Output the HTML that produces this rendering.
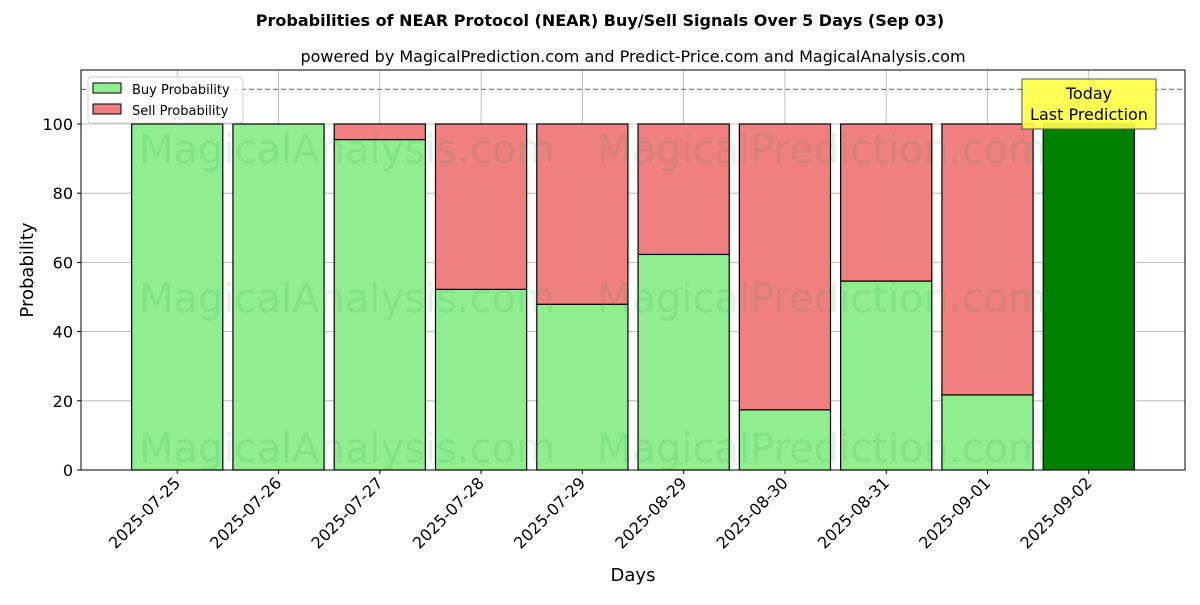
<!DOCTYPE html>
<html><head><meta charset="utf-8"><style>
body{margin:0;background:#fff;}
svg text{font-family:"DejaVu Sans","Liberation Sans",sans-serif;}
</style></head><body>
<svg id="c" width="1200" height="600" xmlns="http://www.w3.org/2000/svg">
<text x="600" y="26" text-anchor="middle" font-size="16" font-weight="bold">Probabilities of NEAR Protocol (NEAR) Buy/Sell Signals Over 5 Days (Sep 03)</text>
<text x="633" y="62" text-anchor="middle" font-size="16">powered by MagicalPrediction.com and Predict-Price.com and MagicalAnalysis.com</text>
<g id="grid"></g>
<g id="bars"></g>
<g id="wm" font-size="40" fill="#2a9d4a" fill-opacity="0.13">
<text x="347" y="163" text-anchor="middle">MagicalAnalysis.com</text>
<text x="822" y="163" text-anchor="middle">MagicalPrediction.com</text>
<text x="347" y="312" text-anchor="middle">MagicalAnalysis.com</text>
<text x="822" y="312" text-anchor="middle">MagicalPrediction.com</text>
<text x="347" y="462" text-anchor="middle">MagicalAnalysis.com</text>
<text x="822" y="462" text-anchor="middle">MagicalPrediction.com</text>
</g>
<line x1="81" x2="1185" y1="89.4" y2="89.4" stroke="#808080" stroke-width="1.2" stroke-dasharray="5,3"/>
<rect x="81" y="70" width="1104" height="400" fill="none" stroke="#000" stroke-width="1"/>
<g id="axes"></g>
<text x="33" y="270" text-anchor="middle" font-size="18" transform="rotate(-90 33 270)">Probability</text>
<text x="633" y="581" text-anchor="middle" font-size="18">Days</text>
<g>
<rect x="88" y="77" width="155" height="46" fill="#fff" fill-opacity="0.8" stroke="#ccc" rx="3"/>
<rect x="93" y="83" width="28" height="10" fill="#90ee90" stroke="#000"/>
<text x="132" y="94" font-size="13">Buy Probability</text>
<rect x="93" y="104" width="28" height="10" fill="#f08080" stroke="#000"/>
<text x="132" y="115" font-size="13">Sell Probability</text>
</g>
<g>
<rect x="1022" y="79" width="134" height="50" fill="#ffff44" fill-opacity="0.9" stroke="#555"/>
<text x="1089" y="99" text-anchor="middle" font-size="16">Today</text>
<text x="1089" y="120" text-anchor="middle" font-size="16">Last Prediction</text>
</g>
</svg>
<script>
const categories=["2025-07-25","2025-07-26","2025-07-27","2025-07-28","2025-07-29","2025-08-29","2025-08-30","2025-08-31","2025-09-01","2025-09-02"];
const buyValues=[100,100,95.5,52.2,47.9,62.3,17.4,54.6,21.7,100];
const sellValues=[0,0,4.5,47.8,52.1,37.7,82.6,45.4,78.3,0];
const yTicks=[0,20,40,60,80,100];
const NS="http://www.w3.org/2000/svg";
const L=81,R=1185,T=70,B=470,xmin=-0.95,xmax=9.95,ymax=115.6;
const X=v=>L+(v-xmin)/(xmax-xmin)*(R-L);
const Y=v=>B-v/ymax*(B-T);
function mk(tag,at,parent){const e=document.createElementNS(NS,tag);for(const k in at)e.setAttribute(k,at[k]);parent.appendChild(e);return e;}
const grid=document.getElementById('grid'),bars=document.getElementById('bars'),axes=document.getElementById('axes');
yTicks.forEach(t=>{
 const g=mk('line',{x1:L,x2:R,y1:Y(t),y2:Y(t),stroke:'#b0b0b0','stroke-width':0.8},grid);
 
 
 const tk=mk('line',{x1:L-4,x2:L,y1:Y(t),y2:Y(t),stroke:'#000'},axes);
 
 
 const tx=mk('text',{x:L-8,y:Y(t)+6,'text-anchor':'end','font-size':16},axes);
 tx.textContent=t;
 
 
});
const w=0.9;
categories.forEach((c,i)=>{
 const x=X(i);
 const g=mk('line',{x1:x,x2:x,y1:T,y2:B,stroke:'#b0b0b0','stroke-width':0.8},grid);
 
 
 const x0=X(i-w/2),bw=X(i+w/2)-x0;
 const last=i===categories.length-1;
 const b=mk('rect',{x:x0,y:Y(buyValues[i]),width:bw,height:Y(0)-Y(buyValues[i]),fill:last?'#008000':'#90ee90',stroke:'#000','stroke-width':1.2},bars);
 
 
 if(sellValues[i]>0){
  const s=mk('rect',{x:x0,y:Y(buyValues[i]+sellValues[i]),width:bw,height:Y(buyValues[i])-Y(buyValues[i]+sellValues[i]),fill:'#f08080',stroke:'#000','stroke-width':1.2},bars);
  
  
 }
 const tk=mk('line',{x1:x,x2:x,y1:B,y2:B+4,stroke:'#000'},axes);
 
 
 const tx=mk('text',{x:x+4,y:B+14,'text-anchor':'end','font-size':16,transform:`rotate(-45 ${x+4} ${B+14})`},axes);
 tx.textContent=c;
 
 
});
</script>
</body></html>
